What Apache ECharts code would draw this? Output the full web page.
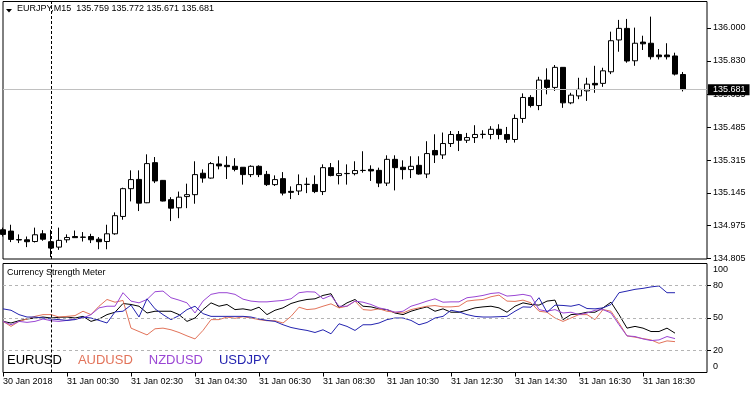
<!DOCTYPE html>
<html>
<head>
<meta charset="utf-8">
<script src="https://cdn.jsdelivr.net/npm/echarts@6/dist/echarts.min.js"></script>
<style>
html,body{margin:0;padding:0;background:#fff;}
#chart{width:750px;height:394px;}
</style>
</head>
<body>
<div id="chart"></div>
<script>
// ---------- data ----------
const symbolTitle = 'EURJPY,M15  135.759 135.772 135.671 135.681';
const indicatorTitle = 'Currency Strength Meter';
const lastPrice = 135.681;
const separatorIndex = 6;

const open = [134.954,134.947,134.903,134.902,134.893,134.933,134.892,134.864,134.902,134.919,134.916,134.919,134.905,134.893,134.933,135.023,135.167,135.215,135.094,135.302,135.210,135.110,135.068,135.126,135.136,135.247,135.222,135.295,135.288,135.283,135.278,135.240,135.283,135.241,135.188,135.219,135.153,135.155,135.189,135.189,135.152,135.276,135.235,135.245,135.245,135.261,135.267,135.262,135.196,135.319,135.278,135.266,135.288,135.243,135.365,135.342,135.401,135.448,135.418,135.432,135.448,135.448,135.475,135.448,135.422,135.531,135.640,135.598,135.730,135.692,135.796,135.612,135.648,135.674,135.713,135.713,135.773,135.938,135.998,135.830,135.927,135.921,135.860,135.860,135.855,135.759];
const close = [134.930,134.904,134.901,134.892,134.928,134.905,134.859,134.899,134.914,134.913,134.915,134.902,134.892,134.933,135.027,135.167,135.214,135.092,135.297,135.207,135.103,135.066,135.123,135.136,135.240,135.222,135.297,135.285,135.281,135.267,135.240,135.283,135.240,135.188,135.214,135.144,135.148,135.188,135.190,135.152,135.276,135.235,135.245,135.246,135.261,135.262,135.259,135.196,135.319,135.276,135.266,135.283,135.243,135.349,135.342,135.401,135.448,135.418,135.432,135.448,135.449,135.475,135.448,135.423,135.531,135.640,135.598,135.730,135.692,135.796,135.612,135.652,135.682,135.709,135.705,135.778,135.934,135.998,135.829,135.921,135.918,135.851,135.851,135.851,135.761,135.681];
const low = [134.919,134.890,134.885,134.864,134.888,134.897,134.812,134.850,134.887,134.912,134.893,134.885,134.853,134.853,134.928,135.006,135.101,135.051,135.092,135.196,135.101,134.999,135.014,135.066,135.089,135.198,135.219,135.267,135.217,135.257,135.188,135.227,135.227,135.181,135.181,135.132,135.113,135.134,135.144,135.144,135.134,135.231,135.189,135.188,135.236,135.250,135.207,135.175,135.181,135.158,135.215,135.222,135.240,135.222,135.300,135.321,135.383,135.362,135.404,135.404,135.427,135.423,135.423,135.404,135.406,135.508,135.588,135.574,135.656,135.674,135.586,135.605,135.631,135.622,135.664,135.695,135.761,135.877,135.820,135.804,135.886,135.837,135.837,135.837,135.754,135.671];
const high = [134.965,134.980,134.930,134.919,134.965,134.952,134.954,134.965,134.930,134.950,134.942,134.933,134.916,134.980,135.044,135.172,135.262,135.262,135.345,135.331,135.212,135.123,135.152,135.193,135.309,135.267,135.305,135.335,135.335,135.325,135.279,135.288,135.288,135.259,135.236,135.253,135.179,135.241,135.224,135.236,135.293,135.300,135.314,135.293,135.309,135.361,135.288,135.276,135.340,135.340,135.314,135.335,135.335,135.413,135.449,135.458,135.466,135.466,135.456,135.496,135.470,135.491,135.501,135.487,135.552,135.661,135.652,135.747,135.791,135.808,135.797,135.664,135.742,135.742,135.804,135.794,135.981,136.042,136.047,136.002,135.960,136.059,135.891,135.921,135.872,135.772];

const eurusd = [46.9,45.4,47.5,49.1,50,50.9,50,50.6,50.9,50,51.5,46.9,49.1,53.1,55.3,63.3,62.4,60.8,54.6,56.2,56.2,56.2,53.1,46.9,50,57.7,63.9,60.8,62.4,57.7,58.4,57.1,59.9,53.1,57.1,59.3,63.3,65.5,67.0,67.6,70.7,72.3,59.3,63.9,67.0,60.8,60.2,58.4,57.7,54.6,53.1,56.2,58.4,60.2,56.2,58.4,55.3,55.3,57.1,59.3,60.2,60.8,59.3,55.3,60.8,63.9,62.4,61.8,65.5,66.4,48.5,53.1,53.7,55.3,55.3,59.3,64.5,53.1,40.7,42.3,40.7,37.6,37.6,40.7,36.1];
const audusd = [46.9,42.3,46.9,49.1,51.5,53.1,53.1,50.9,51.5,52.2,56.2,53.1,60.8,67.0,64.5,66.1,40.7,37.6,34.5,40.1,40.7,39.2,36.7,33.6,30.8,38.6,48.5,48.5,50.9,49.7,51.2,50,48.5,47.5,47.5,45.4,51.5,59.9,57.7,58.4,60.8,63.0,59.3,60.8,65.5,57.7,57.1,58.4,56.2,55.3,54.6,57.7,59.3,60.8,61.4,60.2,60.2,60.8,65.5,66.4,67.0,69.5,71.0,65.5,65.2,66.4,63.9,56.2,55.3,50,46.9,50,53.1,53.1,48.5,57.7,56.2,45.4,33.6,32.4,31.1,29.9,26.8,29.0,28.3];
const nzdusd = [46.9,43.8,46.9,46.0,46.9,49.1,47.5,46.9,47.8,49.1,50,53.1,59.3,60.8,60.8,73.2,65.5,63.9,67.0,74.1,74.7,68.6,66.4,63.9,54.6,65.5,71.7,73.2,73.2,71.7,67.3,65.5,64.8,64.8,65.5,66.1,67.6,73.2,74.1,73.8,67.6,70.7,60.8,60.8,65.5,64.5,62.4,59.3,57.7,55.3,56.2,60.8,63.0,65.5,67.6,64.5,64.8,64.8,68.6,69.5,70.7,72.5,73.2,70.1,70.7,71.7,70.1,57.7,56.2,57.7,54.6,55.3,53.1,54.6,57.1,57.7,54.6,43.8,33.6,33.0,30.8,29.3,29.9,33.0,31.1];
const usdjpy = [58.4,57.1,53.1,50.9,50.9,50,49.1,48.5,47.8,48.5,50.9,50,47.8,45.4,55.6,56.2,61.8,50.9,67.6,58.4,53.1,48.5,52.2,57.7,60.8,54.0,51.5,51.5,51.5,51.5,51.5,50.9,49.1,47.8,46.9,43.8,41.3,39.8,38.6,36.7,39.2,35.5,44.7,42.3,38.6,43.8,43.8,45.4,48.5,50,50,47.8,43.8,45.9,50,51.5,57.1,55.6,53.1,51.5,50.9,50.9,51.2,51.5,56.2,60.2,59.9,68.6,55.3,61.8,61.5,60.8,62.4,58.7,58.4,59.3,62.4,73.2,74.7,76.3,77.2,78.5,79.4,73.2,73.2];

const seriesNames = ['EURUSD','AUDUSD','NZDUSD','USDJPY'];
const seriesColors = ['#000000','#e2735a','#9a46d4','#2424b0'];
const priceTicks = [134.805,134.975,135.145,135.315,135.485,135.655,135.830,136.000];
const strengthTicks = [0,20,50,80,100];
const strengthLevels = [20,50,80];
const timeTickLabels = ['30 Jan 2018','31 Jan 00:30','31 Jan 02:30','31 Jan 04:30','31 Jan 06:30','31 Jan 08:30','31 Jan 10:30','31 Jan 12:30','31 Jan 14:30','31 Jan 16:30','31 Jan 18:30'];
const barsPerLabel = 8;
const emptyBarsRight = 3;

// ---------- build ----------
const FONT = 'Liberation Sans';
const nBars = open.length + emptyBarsRight;
const cats = [];
const t0 = Date.UTC(2018,0,30,22,30);
for (let i = 0; i < nBars; i++) {
  const d = new Date(t0 + i*15*60000);
  const p = n => String(n).padStart(2,'0');
  cats.push(d.getUTCFullYear()+'.'+p(d.getUTCMonth()+1)+'.'+p(d.getUTCDate())+' '+p(d.getUTCHours())+':'+p(d.getUTCMinutes()));
}
const ohlc = open.map((o,i)=>[o, close[i], low[i], high[i]]);
const indData = [eurusd, audusd, nzdusd, usdjpy];
const isLabelBar = i => i % barsPerLabel === 0 && i/barsPerLabel < timeTickLabels.length;

const chart = echarts.init(document.getElementById('chart'), null, {renderer:'canvas'});
const option = {
  animation: false,
  backgroundColor: '#ffffff',
  textStyle: {fontFamily: FONT},
  title: [
    {text: symbolTitle, left: 17, top: 4, padding: 0,
     textStyle: {fontSize: 9, fontWeight: 'normal', color: '#000', fontFamily: FONT}},
    {text: indicatorTitle, left: 7, top: 268, padding: 0,
     textStyle: {fontSize: 9, fontWeight: 'normal', color: '#000', fontFamily: FONT}}
  ],
  graphic: [
    {type: 'polygon', shape: {points: [[6,9],[12,9],[9,12.5]]}, style: {fill: '#000'}}
  ],
  legend: {
    left: 2, top: 354, icon: 'none', itemWidth: 0, itemHeight: 0, itemGap: 11,
    selectedMode: false, padding: 0,
    textStyle: {fontSize: 13, fontFamily: FONT},
    data: seriesNames.map((n,k)=>({name: n, textStyle: {color: seriesColors[k]}}))
  },
  grid: [
    {left: 3, right: 43, top: 1.5, bottom: 135, show: true, borderColor: '#000', borderWidth: 1, backgroundColor: '#fff'},
    {left: 3, right: 43, top: 263.5, bottom: 21.5, show: true, borderColor: '#000', borderWidth: 1, backgroundColor: '#fff'}
  ],
  xAxis: [
    {type: 'category', gridIndex: 0, data: cats, boundaryGap: false,
     axisLine: {show: false}, axisTick: {show: false}, axisLabel: {show: false}, splitLine: {show: false}},
    {type: 'category', gridIndex: 1, data: cats, boundaryGap: false,
     axisLine: {show: false},
     axisTick: {show: true, length: 4, lineStyle: {color: '#000'}, interval: (i)=> isLabelBar(i)},
     axisLabel: {show: true, fontSize: 9, color: '#000', fontFamily: FONT, align: 'left', margin: 5,
       interval: (i)=> isLabelBar(i),
       formatter: (v, i)=> isLabelBar(i) ? timeTickLabels[i/barsPerLabel] : ''},
     splitLine: {show: false}}
  ],
  yAxis: [
    {type: 'value', gridIndex: 0, position: 'right', min: 134.8024, max: 136.1374, scale: true,
     axisLine: {show: false},
     axisTick: {show: true, length: 4, customValues: priceTicks, lineStyle: {color: '#000'}},
     axisLabel: {show: true, customValues: priceTicks, fontSize: 9, color: '#000', fontFamily: FONT, margin: 6,
       formatter: v => Number(v).toFixed(3)},
     splitLine: {show: false}},
    {type: 'value', gridIndex: 1, position: 'right', min: 0, max: 100,
     axisLine: {show: false},
     axisTick: {show: true, length: 4, customValues: strengthLevels, lineStyle: {color: '#000'}},
     axisLabel: {show: true, customValues: strengthTicks, fontSize: 9, color: '#000', fontFamily: FONT, margin: 6,
       formatter: v => v === 100 ? '{t|100}' : (v === 0 ? '{b|0}' : String(v)),
       rich: {t: {padding: [13,0,0,0], fontSize: 9, color: '#000'}, b: {padding: [0,0,12,0], fontSize: 9, color: '#000'}}},
     splitLine: {show: false}}
  ],
  series: [
    {
      type: 'candlestick', xAxisIndex: 0, yAxisIndex: 0, data: ohlc, barWidth: 5,
      itemStyle: {color: '#ffffff', color0: '#000000', borderColor: '#000000', borderColor0: '#000000', borderWidth: 1},
      markLine: {
        silent: true, symbol: ['none','none'], animation: false,
        data: [
          {yAxis: lastPrice, lineStyle: {color: '#c0c0c0', type: 'solid', width: 1},
           label: {show: true, position: 'end', distance: 1, formatter: lastPrice.toFixed(3),
             backgroundColor: '#000', color: '#fff', padding: [1,4,1,5], fontSize: 9, fontFamily: FONT}},
          {xAxis: separatorIndex, lineStyle: {color: '#000', type: [3,2], width: 1}, label: {show: false}}
        ]
      }
    }
  ].concat(seriesNames.map((n,k)=>({
    name: n, type: 'line', xAxisIndex: 1, yAxisIndex: 1, data: indData[k],
    showSymbol: false, symbol: 'none', lineStyle: {width: 1, color: seriesColors[k]}, itemStyle: {color: seriesColors[k]},
    markLine: k === 0 ? {
      silent: true, symbol: ['none','none'], animation: false, label: {show: false},
      data: strengthLevels.map(v=>({yAxis: v, lineStyle: {color: '#b4b4b4', type: [3,3], width: 1}}))
        .concat([{xAxis: separatorIndex, lineStyle: {color: '#000', type: [3,2], width: 1}}])
    } : undefined
  })))
};
chart.setOption(option);
</script>
</body>
</html>
